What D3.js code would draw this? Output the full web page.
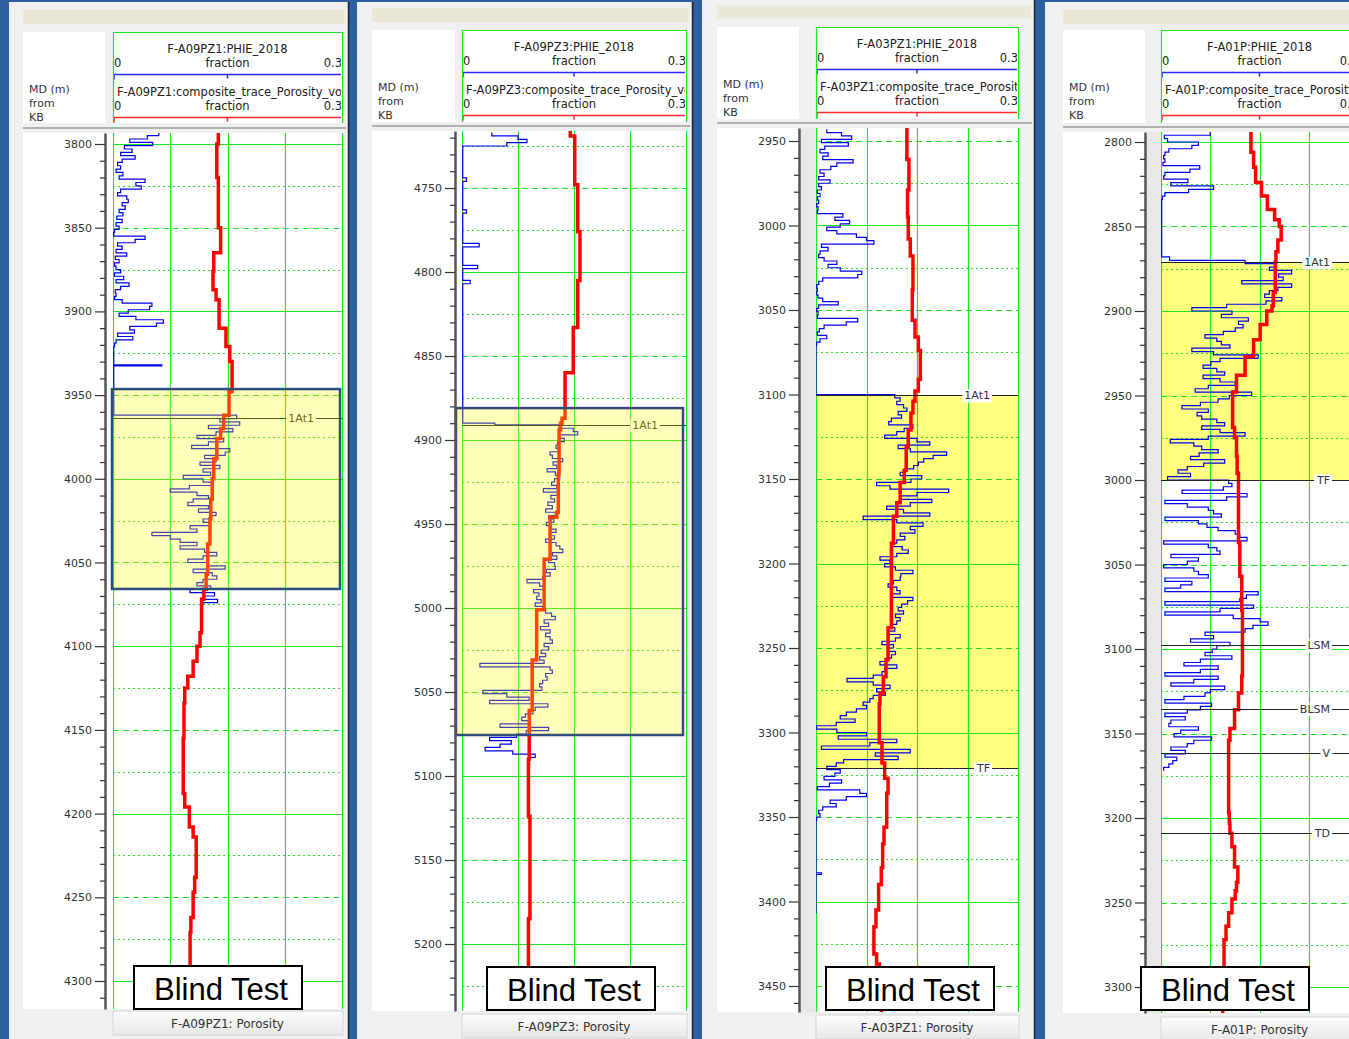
<!DOCTYPE html>
<html>
<head>
<meta charset="utf-8">
<script src="https://cdn.jsdelivr.net/npm/d3@7"></script>
<style>
  body { margin: 0; background: #2d5e9e; }
  svg { display: block; }
  text { font-family: "DejaVu Sans", sans-serif; }
</style>
</head>
<body>
<svg id="chart" width="1349" height="1039"></svg>
<script>
// well names, one per panel
const wells = ["F-A09PZ1", "F-A09PZ3", "F-A03PZ1", "F-A01P"];

// depth tick labels (MD, m)
const depthLabels1 = [3800, 3850, 3900, 3950, 4000, 4050, 4100, 4150, 4200, 4250, 4300];
const depthLabels2 = [4750, 4800, 4850, 4900, 4950, 5000, 5050, 5100, 5150, 5200];
const depthLabels3 = [2950, 3000, 3050, 3100, 3150, 3200, 3250, 3300, 3350, 3400, 3450];
const depthLabels4 = [2800, 2850, 2900, 2950, 3000, 3050, 3100, 3150, 3200, 3250, 3300];

// porosity scale (fraction) and its grid divisions
const porosityRange = [0, 0.3];
const gridFractions = [0, 0.075, 0.15, 0.225, 0.3];

// PHIE_2018 log: [depth, porosity]
const blue1 = [[3793,.060],[3795,.045],[3797,.022],[3799,.052],[3801,.015],[3803,.025],[3805,.010],[3807,.029],[3809,.012],[3811,.006],[3813,.010],[3815,.004],[3817,.013],[3819,.008],[3821,.042],[3823,.030],[3825,.037],[3827,.010],[3829,.006],[3831,.018],[3833,.020],[3835,.012],[3837,.016],[3839,.008],[3841,.013],[3843,.005],[3845,.012],[3847,.004],[3849,.008],[3851,.002],[3853,.001],[3855,.042],[3857,.029],[3859,.006],[3861,.012],[3863,.004],[3865,.018],[3867,.003],[3869,.008],[3871,.002],[3873,.004],[3875,.010],[3877,.002],[3879,.014],[3881,.004],[3883,.021],[3885,.010],[3887,.003],[3889,.004],[3891,.002],[3893,.012],[3895,.051],[3897,.048],[3899,.020],[3901,.008],[3903,.030],[3905,.066],[3907,.057],[3909,.022],[3911,.028],[3913,.006],[3915,.026],[3917,.004],[3919,.002],[3921,.001],[3932,.064],[3932.6,.001],
  [3962,.162],[3964,.140],[3966,.166],[3968,.125],[3970,.157],[3972,.135],[3974,.110],[3976,.145],[3978,.125],[3980,.103],[3982,.153],[3984,.147],[3986,.120],[3988,.135],[3990,.114],[3992,.140],[3994,.118],[3996,.128],[3998,.092],[4000,.118],[4002,.130],[4004,.100],[4006,.075],[4008,.110],[4010,.125],[4012,.105],[4014,.098],[4016,.125],[4018,.112],[4020,.135],[4022,.127],[4024,.118],[4026,.128],[4028,.101],[4030,.110],[4032,.051],[4034,.075],[4036,.088],[4038,.110],[4040,.088],[4042,.120],[4044,.136],[4046,.118],[4048,.098],[4050,.125],[4052,.147],[4054,.105],[4056,.130],[4058,.136],[4060,.118],[4062,.110],[4064,.128],[4066,.101],[4068,.133],[4070,.120],[4072,.137],[4074,.118],[4075,.118]];

const blue2 = [[4717,.040],[4719,.075],[4721,.087],[4723,.060],[4725,.001],[4744,.006],[4746,.001],[4763,.006],[4765,.001],[4783,.023],[4785,.001],[4796,.021],[4798,.001],[4805,.011],[4807,.001],[4890,.044],
  [4891,.130],[4893,.149],[4895,.155],[4897,.131],[4899,.137],[4901,.128],[4903,.126],[4905,.130],[4907,.118],[4909,.121],[4911,.135],[4913,.122],[4915,.127],[4917,.114],[4919,.125],[4921,.131],[4923,.124],[4925,.120],[4927,.127],[4929,.109],[4931,.128],[4933,.119],[4935,.124],[4937,.115],[4939,.121],[4941,.112],[4943,.125],[4945,.116],[4947,.123],[4949,.113],[4951,.119],[4953,.126],[4955,.117],[4957,.124],[4959,.112],[4961,.126],[4963,.131],[4965,.135],[4967,.121],[4969,.127],[4971,.116],[4973,.124],[4975,.125],[4977,.113],[4979,.118],[4981,.108],[4983,.087],[4985,.104],[4987,.109],[4989,.096],[4991,.103],[4993,.100],[4995,.106],[4997,.098],[4999,.108],[5001,.112],[5003,.120],[5005,.125],[5007,.110],[5009,.116],[5011,.105],[5013,.118],[5015,.112],[5017,.118],[5019,.121],[5021,.110],[5023,.116],[5025,.106],[5027,.112],[5029,.104],[5031,.110],[5033,.024],[5035,.118],[5037,.121],[5039,.112],[5041,.114],[5043,.108],[5045,.104],[5047,.107],[5049,.028],[5051,.060],[5053,.090],[5055,.037],[5057,.115],[5059,.098],[5061,.095],[5063,.085],[5065,.080],[5067,.090],[5069,.051],[5071,.116],[5073,.086],[5075,.073],[5077,.037],[5079,.066],[5081,.051],[5083,.031],[5085,.068],[5087,.098],[5089,.091],[5090,.091]];

const blue3 = [[2943,.016],[2945,.038],[2947,.053],[2949,.008],[2951,.048],[2953,.013],[2955,.006],[2957,.018],[2959,.010],[2961,.055],[2963,.031],[2965,.022],[2967,.006],[2969,.012],[2971,.004],[2973,.021],[2975,.004],[2977,.008],[2979,.002],[2981,.006],[2983,.002],[2985,.004],[2987,.001],[2989,.003],[2991,.002],[2993,.040],[2995,.028],[2997,.050],[2999,.036],[3001,.016],[3003,.031],[3005,.060],[3007,.075],[3009,.086],[3011,.008],[3013,.018],[3015,.006],[3017,.004],[3019,.012],[3021,.031],[3023,.018],[3025,.036],[3027,.068],[3029,.062],[3031,.010],[3033,.004],[3035,.001],[3037,.002],[3039,.001],[3041,.003],[3043,.010],[3045,.033],[3047,.004],[3049,.001],[3051,.003],[3053,.002],[3055,.062],[3057,.045],[3059,.012],[3061,.005],[3063,.002],[3065,.016],[3067,.006],[3069,.001],[3071,0],
  [3100,.117],[3102,.125],[3104,.120],[3106,.130],[3108,.135],[3110,.122],[3112,.127],[3114,.112],[3116,.108],[3118,.144],[3120,.131],[3122,.120],[3124,.102],[3126,.150],[3128,.169],[3130,.122],[3132,.140],[3134,.194],[3136,.174],[3138,.160],[3140,.152],[3142,.145],[3144,.132],[3146,.125],[3148,.157],[3150,.141],[3152,.090],[3154,.110],[3156,.197],[3158,.150],[3160,.125],[3162,.172],[3164,.140],[3166,.105],[3168,.130],[3170,.169],[3172,.070],[3174,.120],[3176,.159],[3178,.140],[3180,.147],[3182,.125],[3184,.132],[3186,.120],[3188,.112],[3190,.128],[3192,.137],[3194,.120],[3196,.095],[3198,.110],[3200,.102],[3202,.118],[3204,.144],[3206,.126],[3208,.125],[3210,.115],[3212,.107],[3214,.120],[3216,.125],[3218,.112],[3220,.144],[3222,.136],[3224,.127],[3226,.122],[3228,.130],[3230,.118],[3232,.125],[3234,.120],[3236,.113],[3238,.117],[3240,.108],[3242,.125],[3244,.118],[3246,.098],[3248,.115],[3250,.107],[3252,.118],[3254,.112],[3256,.104],[3258,.095],[3260,.120],[3262,.102],[3264,.098],[3266,.085],[3268,.046],[3270,.085],[3272,.110],[3274,.090],[3276,.103],[3278,.085],[3280,.080],[3282,.070],[3284,.075],[3286,.060],[3288,.045],[3290,.036],[3292,.058],[3294,.030],[3296,.001],[3298,.031],[3300,.075],[3302,.033],[3304,.120],[3306,.080],[3308,.008],[3310,.140],[3312,.088],[3314,.122],[3316,.041],[3318,.030],[3320,.016],[3322,.036],[3324,.028],[3326,.012],[3328,.038],[3330,.020],[3332,.002],[3334,.065],[3336,.075],[3338,.045],[3340,.021],[3342,.030],[3344,.010],[3346,.004],[3348,.006],[3350,.001],[3352,0],[3383,.008],[3384,0],[3407,0]];

const blue4 = [[2794,.075],[2796,.005],[2798,.010],[2800,.057],[2802,.047],[2804,.012],[2806,.006],[2808,.004],[2810,.006],[2812,.003],[2814,.059],[2816,.044],[2818,.006],[2820,.004],[2822,.041],[2824,.015],[2826,.080],[2828,.042],[2830,.006],[2832,.002],[2834,.001],[2868,.013],
  [2870,.128],[2872,.174],[2874,.165],[2876,.199],[2878,.179],[2880,.186],[2882,.123],[2884,.199],[2886,.178],[2888,.165],[2890,.158],[2892,.184],[2894,.160],[2896,.100],[2898,.047],[2900,.108],[2902,.092],[2904,.133],[2906,.118],[2908,.125],[2910,.113],[2912,.095],[2914,.067],[2916,.085],[2918,.092],[2920,.105],[2922,.047],[2924,.080],[2926,.148],[2928,.090],[2930,.076],[2932,.064],[2934,.085],[2936,.097],[2938,.064],[2940,.090],[2942,.113],[2944,.072],[2946,.052],[2948,.138],[2950,.104],[2952,.087],[2954,.060],[2956,.032],[2958,.072],[2960,.055],[2962,.062],[2964,.085],[2966,.097],[2968,.062],[2970,.090],[2972,.128],[2974,.072],[2976,.014],[2978,.050],[2980,.062],[2982,.087],[2984,.058],[2986,.045],[2988,.097],[2990,.065],[2992,.040],[2994,.026],[2996,.045],[2998,.010],
  [3000,.103],[3002,.108],[3004,.095],[3006,.032],[3008,.131],[3010,.100],[3012,.006],[3014,.040],[3016,.072],[3018,.080],[3020,.092],[3022,.006],[3024,.057],[3026,.070],[3028,.087],[3030,.113],[3032,.120],[3034,.131],[3036,.004],[3038,.072],[3040,.085],[3042,.090],[3044,.015],[3046,.057],[3048,.040],[3050,.004],[3052,.050],[3054,.057],[3056,.072],[3058,.006],[3060,.047],[3062,.030],[3064,.006],[3066,.148],[3068,.130],[3070,.120],[3072,.006],[3074,.141],[3076,.090],[3078,.006],[3080,.110],[3082,.151],[3084,.163],[3086,.140],[3088,.128],[3090,.067],[3092,.080],[3094,.045],[3096,.105],[3098,.085],[3100,.078],[3102,.067],[3104,.108],[3106,.060],[3108,.035],[3110,.087],[3112,.060],[3114,.006],[3116,.087],[3118,.050],[3120,.015],[3122,.097],[3124,.075],[3126,.067],[3128,.035],[3130,.006],[3132,.077],[3134,.060],[3136,.040],[3138,.006],[3140,.037],[3142,.015],[3144,.012],[3146,.057],[3148,.030],[3150,.020],[3152,.077],[3154,.050],[3156,.040],[3158,.015],[3160,.037],[3162,.006],[3164,.024],[3166,.018],[3168,.012],[3170,.004],[3172,.004]];

// composite_trace_Porosity: [depth, porosity]
const red1 = [[3790,.138],[3800,.136],[3820,.138],[3850,.141],[3865,.132],[3876,.131],[3887,.135],[3893,.139],[3910,.148],[3921,.153],[3930,.156],[3948,.152],[3962,.145],[3970,.141],[3976,.136],[3988,.132],[4000,.130],[4012,.128],[4024,.127],[4039,.124],[4057,.122],[4066,.119],[4072,.116],[4092,.114],[4100,.110],[4109,.105],[4118,.098],[4125,.094],[4134,.093],[4155,.092],[4173,.092],[4188,.094],[4196,.100],[4208,.105],[4214,.109],[4238,.107],[4247,.105],[4262,.102],[4271,.101],[4320,.101]];
const red2 = [[4715,.145],[4719,.151],[4748,.155],[4776,.158],[4805,.155],[4833,.149],[4860,.138],[4887,.134],[4890,.132],[4894,.130],[4920,.129],[4943,.127],[4946,.118],[4971,.110],[5001,.100],[5031,.094],[5061,.090],[5090,.089],[5124,.091],[5185,.089],[5230,.089]];
const red3 = [[2940,.135],[2961,.138],[2979,.136],[2995,.137],[3008,.140],[3018,.144],[3038,.143],[3056,.147],[3066,.152],[3074,.155],[3091,.152],[3098,.147],[3104,.144],[3111,.141],[3121,.137],[3131,.134],[3145,.131],[3152,.125],[3164,.120],[3172,.115],[3188,.112],[3238,.107],[3257,.104],[3267,.100],[3277,.095],[3283,.094],[3306,.098],[3318,.102],[3327,.107],[3336,.105],[3356,.101],[3366,.099],[3380,.097],[3390,.093],[3405,.089],[3415,.086],[3431,.090],[3437,.094],[3450,.097],[3470,.098]];
const red4 = [[2792,.137],[2806,.141],[2815,.144],[2824,.153],[2832,.162],[2840,.173],[2846,.180],[2850,.183],[2858,.178],[2865,.175],[2871,.174],[2889,.171],[2897,.169],[2900,.161],[2908,.151],[2917,.141],[2927,.128],[2938,.115],[2948,.109],[2969,.112],[2975,.115],[2986,.116],[2996,.118],[3037,.120],[3057,.123],[3077,.124],[3116,.123],[3126,.118],[3136,.112],[3147,.105],[3154,.103],[3197,.104],[3203,.105],[3209,.108],[3217,.112],[3229,.117],[3238,.115],[3243,.113],[3248,.108],[3256,.103],[3264,.099],[3272,.096],[3296,.094],[3320,.094]];

// well tops: [name, depth]
const tops1 = [["1At1", 3963.7]];
const tops2 = [["1At1", 4891]];
const tops3 = [["1At1", 3100.5], ["TF", 3321]];
const tops4 = [["1At1", 2871], ["TF", 3000], ["LSM", 3097.5], ["BLSM", 3135.5], ["V", 3161.5], ["TD", 3209]];

// highlighted depth intervals [top, base]
const blindBox = [[3946.4, 4065.8], [4881, 5075.6], null, null];
const reservoirZone = [null, null, [3100.5, 3321], [2871, 3000]];

// screen layout of the four log panels
const layout = [
  { x0: 9, x1: 349, top: 2, beigeY: 10, hdrTop: 32, hdrBot: 123, sepY: 128, dataTop: 133, dataBot: 1009, footY: 1011,
    mdX0: 23, axisX: 105, tX0: 113, tX1: 342, d0: 3800, y0: 144, d1: 4300, y1: 981, bx: 134, by: 966, ovL: -1, ovR: -2, gap: null },
  { x0: 357, x1: 693, top: 2, beigeY: 8, hdrTop: 30, hdrBot: 122, sepY: 126, dataTop: 131, dataBot: 1011, footY: 1014,
    mdX0: 372, axisX: 455, tX0: 462, tX1: 686, d0: 4750, y0: 188, d1: 5200, y1: 944, bx: 487, by: 967, ovL: -6, ovR: -3, gap: null },
  { x0: 702, x1: 1035, top: 0, beigeY: 5, hdrTop: 27, hdrBot: 119, sepY: 123, dataTop: 128, dataBot: 1012, footY: 1015,
    mdX0: 717, axisX: 799, tX0: 816, tX1: 1018, d0: 2950, y0: 141, d1: 3450, y1: 986, bx: 826, by: 967, gap: "#e8e8e8" },
  { x0: 1045, x1: 1370, top: 2, beigeY: 10, hdrTop: 30, hdrBot: 123, sepY: 127, dataTop: 132, dataBot: 1013, footY: 1017,
    mdX0: 1063, axisX: 1145, tX0: 1161, tX1: 1358, d0: 2800, y0: 142, d1: 3300, y1: 987, bx: 1141, by: 967, gap: "#e8e8e8" }
];

const labels = [depthLabels1, depthLabels2, depthLabels3, depthLabels4];
const blues = [blue1, blue2, blue3, blue4];
const reds = [red1, red2, red3, red4];
const tops = [tops1, tops2, tops3, tops4];

const GREEN = "#1ee61e";
const svg = d3.select("#chart");

svg.append("rect").attr("width", 1349).attr("height", 1039).attr("fill", "#2d5e9e");

const defs = svg.append("defs");
const grad = defs.append("linearGradient").attr("id", "footGrad")
  .attr("x1", 0).attr("x2", 0).attr("y1", 0).attr("y2", 1);
grad.append("stop").attr("offset", "0%").attr("stop-color", "#fdfdfd");
grad.append("stop").attr("offset", "100%").attr("stop-color", "#e6e6e6");

layout.forEach((p, i) => drawPanel(p, i));

function drawPanel(p, i) {
  const g = svg.append("g");
  const well = wells[i];

  // panel frame
  g.append("rect").attr("x", p.x0).attr("y", p.top).attr("width", p.x1 - p.x0).attr("height", 1039 - p.top)
    .attr("fill", "#f0f0f0");
  g.append("line").attr("x1", p.x1 - 0.5).attr("x2", p.x1 - 0.5).attr("y1", p.top).attr("y2", 1039)
    .attr("stroke", "#1b2535").attr("stroke-width", 1.5);
  g.append("rect").attr("x", p.mdX0).attr("y", p.beigeY).attr("width", p.x1 - 4 - p.mdX0).attr("height", 14)
    .attr("fill", "#ebe8d8");

  // header boxes
  g.append("rect").attr("x", p.mdX0).attr("y", p.hdrTop).attr("width", p.axisX - p.mdX0).attr("height", p.hdrBot - p.hdrTop)
    .attr("fill", "#fff");
  ["MD (m)", "from", "KB"].forEach((t, k) => {
    g.append("text").attr("x", p.mdX0 + 6).attr("y", p.hdrTop + 61 + k * 14)
      .attr("font-size", 11).attr("fill", "#333").text(t);
  });
  g.append("rect").attr("x", p.tX0).attr("y", p.hdrTop).attr("width", p.tX1 - p.tX0 + 1).attr("height", p.hdrBot - p.hdrTop)
    .attr("fill", "#fff");
  g.append("path")
    .attr("d", `M${p.tX0 + 0.5},${p.hdrBot}V${p.hdrTop + 0.5}H${p.tX1 + 0.5}V${p.hdrBot}`)
    .attr("fill", "none").attr("stroke", GREEN).attr("stroke-width", 1.2);

  const hclip = "hclip" + i;
  defs.append("clipPath").attr("id", hclip).append("rect")
    .attr("x", p.tX0 + 1).attr("y", p.hdrTop).attr("width", p.tX1 - p.tX0 - 2).attr("height", p.hdrBot - p.hdrTop);
  const hg = g.append("g").attr("clip-path", `url(#${hclip})`);
  const mid = (p.tX0 + p.tX1) / 2;

  const curveHeads = [
    { name: well + ":PHIE_2018", dy: 0, color: "#2a2aff", anchor: "middle" },
    { name: well + ":composite_trace_Porosity_vol", dy: 43, color: "#ff2a2a", anchor: "start" }
  ];
  curveHeads.forEach(h => {
    const ty = p.hdrTop + 21 + h.dy;
    hg.append("text").attr("x", h.anchor === "middle" ? mid : p.tX0 + 4).attr("y", ty)
      .attr("text-anchor", h.anchor).attr("font-size", 11.5).attr("fill", "#222").text(h.name);
    hg.append("text").attr("x", p.tX0 + 1).attr("y", ty + 14).attr("font-size", 11.5).attr("fill", "#222").text(porosityRange[0]);
    hg.append("text").attr("x", mid).attr("y", ty + 14).attr("text-anchor", "middle").attr("font-size", 11.5).attr("fill", "#222").text("fraction");
    hg.append("text").attr("x", p.tX1).attr("y", ty + 14).attr("text-anchor", "end").attr("font-size", 11.5).attr("fill", "#222").text(porosityRange[1]);
    const ly = ty + 21.5;
    hg.append("path")
      .attr("d", `M${p.tX0 + 1},${ly + 5}V${ly}H${p.tX1}V${ly + 5}M${mid},${ly}V${ly + 4}`)
      .attr("fill", "none").attr("stroke", h.color).attr("stroke-width", 1.5);
  });

  // header separator
  g.append("line").attr("x1", p.mdX0).attr("x2", p.x1 - 3).attr("y1", p.sepY).attr("y2", p.sepY)
    .attr("stroke", "#b0b0b0").attr("stroke-width", 2);

  // scales
  const yBase = d3.scaleLinear().domain([p.d0, p.d1]).range([p.y0, p.y1]);
  const y = d3.scaleLinear().domain([yBase.invert(p.dataTop), yBase.invert(p.dataBot)]).range([p.dataTop, p.dataBot]);
  const x = d3.scaleLinear().domain(porosityRange).range([p.tX0, p.tX1]);
  const [dTop, dBot] = y.domain();

  // data area
  g.append("rect").attr("x", p.mdX0).attr("y", p.dataTop).attr("width", p.tX1 + 1 - p.mdX0).attr("height", p.dataBot - p.dataTop)
    .attr("fill", "#fff");
  if (p.gap) {
    g.append("rect").attr("x", p.axisX + 2).attr("y", p.dataTop).attr("width", p.tX0 - p.axisX - 2).attr("height", p.dataBot - p.dataTop)
      .attr("fill", p.gap);
  }

  const clip = "clip" + i;
  defs.append("clipPath").attr("id", clip).append("rect")
    .attr("x", p.tX0).attr("y", p.dataTop).attr("width", p.tX1 - p.tX0 + 1).attr("height", p.dataBot - p.dataTop);
  const tg = g.append("g").attr("clip-path", `url(#${clip})`);

  // reservoir zone fill (under the grid)
  if (reservoirZone[i]) {
    const z = reservoirZone[i];
    tg.append("rect").attr("x", p.tX0).attr("y", y(z[0])).attr("width", p.tX1 - p.tX0).attr("height", y(z[1]) - y(z[0]))
      .attr("fill", "#ffff80");
  }

  // grid
  tg.selectAll(".vgrid").data(gridFractions).enter().append("line")
    .attr("x1", d => Math.round(x(d)) + 0.5).attr("x2", d => Math.round(x(d)) + 0.5)
    .attr("y1", p.dataTop).attr("y2", p.dataBot)
    .attr("stroke", GREEN).attr("stroke-width", 1.2);
  const hDepths = d3.range(Math.ceil(dTop / 25) * 25, dBot, 25);
  tg.selectAll(".hgrid").data(hDepths).enter().append("line")
    .attr("x1", p.tX0).attr("x2", p.tX1)
    .attr("y1", d => Math.round(y(d)) + 0.5).attr("y2", d => Math.round(y(d)) + 0.5)
    .attr("stroke", GREEN).attr("stroke-width", 1.2)
    .attr("stroke-dasharray", d => d % 100 === 0 ? null : (d % 50 === 0 ? "6,4" : "2,3"));

  // curves
  const logLine = d3.line().x(d => x(d[1])).y(d => y(d[0])).curve(d3.curveStepBefore);
  tg.append("path").datum(blues[i]).attr("d", logLine)
    .attr("fill", "none").attr("stroke", "#0000f0").attr("stroke-width", 1.2);
  tg.append("path").datum(reds[i]).attr("d", logLine)
    .attr("fill", "none").attr("stroke", "#ff0000").attr("stroke-width", 3.5).attr("stroke-linejoin", "miter");

  // well tops
  tops[i].forEach(([name, d]) => {
    const yy = Math.round(y(d)) + 0.5;
    tg.append("line").attr("x1", p.tX0).attr("x2", p.tX1).attr("y1", yy).attr("y2", yy)
      .attr("stroke", "#222").attr("stroke-width", 1.2);
    const t = tg.append("text").attr("x", p.tX1 - 28).attr("y", yy).attr("dy", "0.35em")
      .attr("text-anchor", "end").attr("font-size", 11).attr("fill", "#333").text(name);
    const bb = t.node().getBBox();
    tg.insert("rect", () => t.node()).attr("x", bb.x - 2).attr("y", bb.y).attr("width", bb.width + 4).attr("height", bb.height)
      .attr("fill", "#fff");
  });

  // blind test interval overlay
  if (blindBox[i]) {
    const z = blindBox[i];
    g.append("rect").attr("x", p.tX0 + p.ovL).attr("y", y(z[0]))
      .attr("width", p.tX1 + p.ovR - p.tX0 - p.ovL).attr("height", y(z[1]) - y(z[0]))
      .attr("fill", "rgba(255,255,0,0.27)").attr("stroke", "#2f4d7c").attr("stroke-width", 2.5);
  }

  // depth axis
  const axis = d3.axisLeft(y).tickValues(labels[i]).tickFormat(d3.format("d"))
    .tickSize(10).tickSizeOuter(0).tickPadding(3);
  const ag = g.append("g").attr("transform", `translate(${p.axisX},0)`).call(axis)
    .attr("font-family", "DejaVu Sans, sans-serif").attr("font-size", 11);
  ag.select(".domain").attr("stroke", "#555").attr("stroke-width", 2.5);
  ag.selectAll(".tick line").attr("stroke", "#333").attr("stroke-width", 1.2);
  ag.selectAll(".tick text").attr("fill", "#333");
  const minor = d3.range(Math.ceil(dTop / 10) * 10, dBot, 10).filter(d => d % 50 !== 0);
  const mg = g.append("g").attr("transform", `translate(${p.axisX},0)`)
    .call(d3.axisLeft(y).tickValues(minor).tickSize(5).tickFormat(""));
  mg.select(".domain").remove();
  mg.selectAll(".tick line").attr("stroke", "#333").attr("stroke-width", 1.2);

  // footer
  g.append("rect").attr("x", p.tX0).attr("y", p.footY).attr("width", p.tX1 - p.tX0 + 1).attr("height", 24)
    .attr("fill", "url(#footGrad)").attr("stroke", "#d4d4d4");
  g.append("text").attr("x", mid).attr("y", p.footY + 17).attr("text-anchor", "middle")
    .attr("font-size", 12).attr("fill", "#333").text(well + ": Porosity");

  // Blind Test label
  g.append("rect").attr("x", p.bx).attr("y", p.by).attr("width", 168).attr("height", 43)
    .attr("fill", "#fff").attr("stroke", "#000").attr("stroke-width", 2);
  g.append("text").attr("x", p.bx + 20).attr("y", p.by + 34)
    .style("font-family", "'Liberation Sans', Arial, sans-serif").attr("font-size", 31).attr("fill", "#000")
    .text("Blind Test");
}
</script>
</body>
</html>
